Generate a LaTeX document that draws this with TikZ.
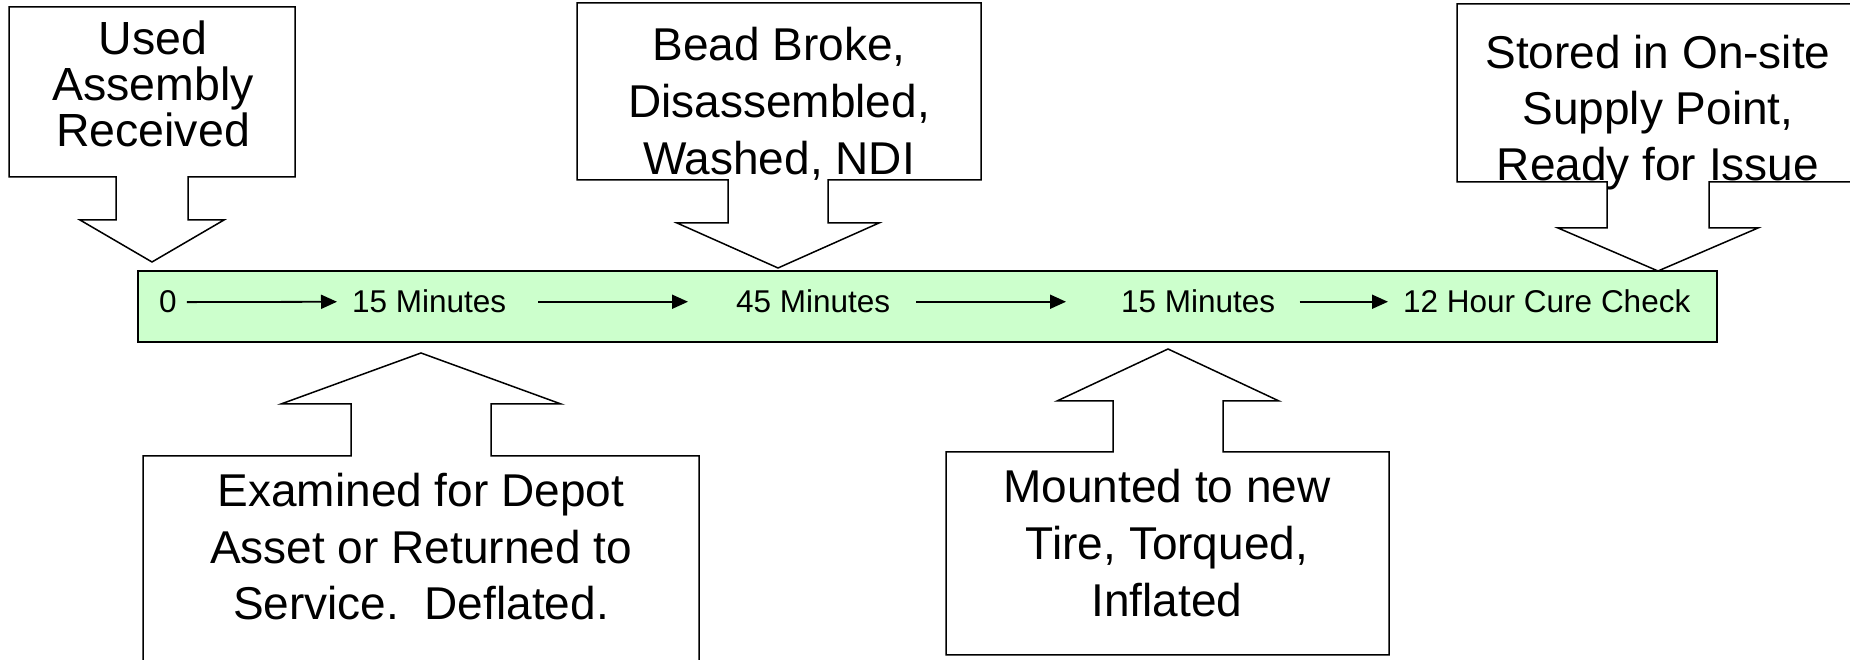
\documentclass[tikz,border=0pt]{standalone}
\usepackage{fontspec}
\setmainfont{Liberation Sans}
\usetikzlibrary{arrows.meta}

\definecolor{barfill}{HTML}{CCFFCC}

\newcommand{\callout}[9]{%
	\draw[callout] (#1,#3) -- (#2,#3) -- (#2,#4) -- ({#5+#6},#4) -- ({#5+#6},#8) -- ({#5+#7},#8) -- (#5,#9) -- ({#5-#7},#8) -- ({#5-#6},#8) -- ({#5-#6},#4) -- (#1,#4) -- cycle;}

\begin{document}
\begin{tikzpicture}[x=1pt,y=1pt,
	callout/.style={draw=black,line width=1.5pt},
	boxtext/.style={align=center,inner sep=0pt,text depth=0pt,anchor=south,font=\fontsize{46}{57}\selectfont},
	timetext/.style={inner sep=0pt,anchor=base west,font=\fontsize{31.5}{36}\selectfont},
	timeline/.style={line width=1.8pt,-{Triangle[length=16pt,width=14pt]}}]
	\clip (0,0) rectangle (1850,660);

	\node[draw=black,line width=2pt,fill=barfill,minimum width=1579pt,minimum height=71pt,inner sep=0pt] (bar) at (927.5,353.5) {};

	\callout{9}{295}{653}{483}{152}{36}{72}{440}{398}
	\callout{577}{981}{657}{480}{778}{50}{101}{437}{392}
	\callout{1457}{1870}{656}{478}{1658}{51}{100}{432}{389}
	\callout{143}{699}{-10}{204}{421}{70}{140}{256}{307}
	\callout{946}{1389}{5}{208}{1168}{55}{111}{259}{311}

	\node[boxtext,font=\fontsize{46.5}{46}\selectfont] (used) at (153,513) {Used\\Assembly\\Received};
	\node[boxtext] (bead) at (779,485) {Bead Broke,\\Disassembled,\\Washed, NDI};
	\node[boxtext,font=\fontsize{46}{56}\selectfont] (stored) at (1658,479) {Stored in On-site\\Supply Point,\\Ready for Issue};
	\node[boxtext,font=\fontsize{46}{56.5}\selectfont] (examined) at (421,40) {Examined for Depot\\Asset or Returned to\\Service.\ \ Deflated.};
	\node[boxtext] (mounted) at (1167,43) {Mounted to new\\Tire, Torqued,\\Inflated};

	\node[timetext] (t0) at (159,347) {0};
	\node[timetext] (t1) at (352,347) {15 Minutes};
	\node[timetext] (t2) at (736,347) {45 Minutes};
	\node[timetext] (t3) at (1121,347) {15 Minutes};
	\node[timetext] (t4) at (1403,347) {12 Hour Cure Check};

	\draw[timeline,shorten <=10pt,shorten >=15pt] (t0.east) -- (t1.west);
	\draw[timeline,shorten <=32pt,shorten >=48pt] (t1.east) -- (t2.west);
	\draw[timeline,shorten <=26pt,shorten >=55pt] (t2.east) -- (t3.west);
	\draw[timeline,shorten <=24pt,shorten >=15pt] (t3.east) -- (t4.west);

\end{tikzpicture}
\end{document}
